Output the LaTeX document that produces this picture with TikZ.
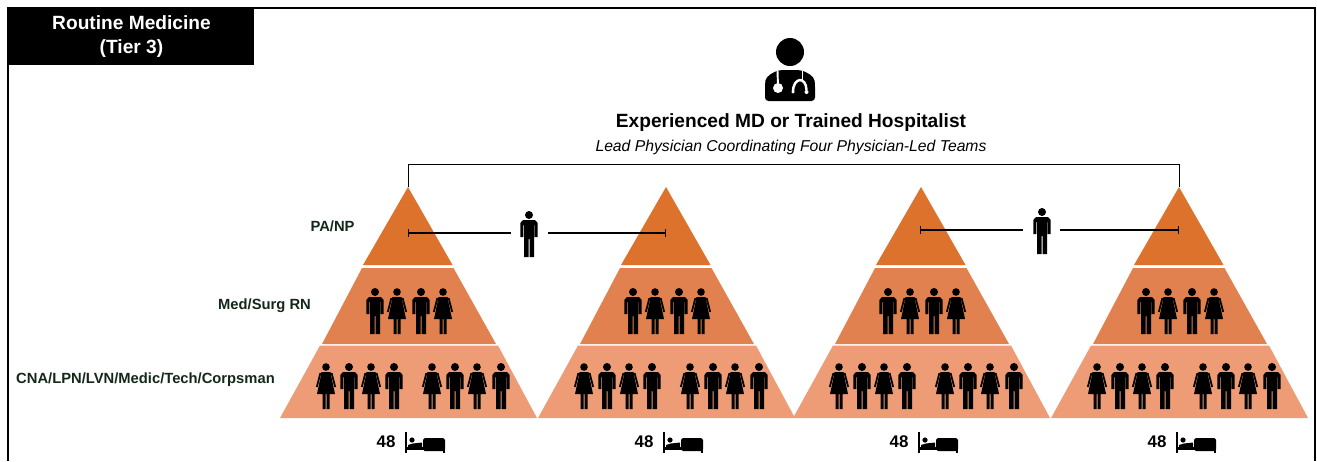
\documentclass[tikz,border=0pt]{standalone}
\usepackage{fontspec}
\setmainfont{Liberation Sans}
\usetikzlibrary{arrows.meta}
\definecolor{tiertop}{HTML}{DC722B}
\definecolor{tiermid}{HTML}{E0814F}
\definecolor{tierlow}{HTML}{EE9C75}
\definecolor{stafftext}{HTML}{14281A}

\begin{document}
\begin{tikzpicture}[
    x=0.02cm, y=-0.02cm,
    % Define styles
    frameline/.style={draw, line width=1.1pt},
    tierbox/.style={fill=black, text=white, align=center, font=\fontsize{10.9pt}{13.4pt}\selectfont\bfseries},
    title/.style={font=\fontsize{10.9pt}{13pt}\selectfont\bfseries},
    subtitle/.style={font=\fontsize{8.95pt}{12pt}\selectfont\itshape},
    staff/.style={text=stafftext, font=\fontsize{8.4pt}{10pt}\selectfont\bfseries},
    beds/.style={font=\fontsize{9.6pt}{11pt}\selectfont\bfseries},
    bracket/.style={line width=0.5pt},
    teamline/.style={line width=0.6pt},
    man/.pic={
        \fill (0,4) circle[radius=4];
        \fill (-8.7,26) -- (-8.7,12) -- (-6,9) -- (6,9) -- (8.7,12) -- (8.7,26) -- (5.7,26) -- (5.7,14)
            -- (5,14) -- (5,46) -- (0.5,46) -- (0.5,28) -- (-0.5,28) -- (-0.5,46) -- (-5,46) -- (-5,14)
            -- (-5.7,14) -- (-5.7,26) -- cycle;
    },
    woman/.pic={
        \fill (0,4) circle[radius=3.8];
        \fill (-4.6,9) -- (4.6,9) -- (5.4,14) -- (9,31) -- (3.5,31) -- (3.5,46) -- (0.5,46) -- (0.5,31)
            -- (-0.5,31) -- (-0.5,46) -- (-3.5,46) -- (-3.5,31) -- (-9,31) -- (-5.4,14) -- cycle;
        \draw[line width=1pt] (-5.6,10) -- (-9.2,24);
        \draw[line width=1pt] (5.6,10) -- (9.2,24);
    },
    bed/.pic={
        \fill (0,0) rectangle (2.4,21);
        \fill (0,15) rectangle (40,18);
        \fill (7,8) circle[radius=2.6];
        \fill (3,13) -- (8,11.5) -- (17,10.5) -- (17,15) -- (3,15) -- cycle;
        \fill[rounded corners=1pt] (18,6) rectangle (40,19);
        \fill (37.6,15) rectangle (40,21);
    }
]

\useasboundingbox (0,0) rectangle (1317,461);

% Frame and tier box
\draw[frameline] (8,461) -- (8,8) -- (1315,8) -- (1315,461);
\node[tierbox, minimum width=4.92cm, minimum height=1.14cm, inner sep=0pt] (tier) at (131.5,36.5) {Routine Medicine\\(Tier 3)};

% Lead physician
\coordinate (doctor) at (790,52);
\fill (doctor) circle[radius=14];
\fill[rounded corners=2pt] (765,101) -- (765,84) .. controls (766,76) and (774,72) .. (780,70)
    -- (800,70) .. controls (806,72) and (814,76) .. (815,84) -- (815,101) -- cycle;
\draw[white, line width=1.1pt] (777.5,71) -- (778,86);
\fill[white] (778,88) circle[radius=5];
\draw[white, line width=1.1pt] (802.5,71) -- (802.5,81);
\draw[white, line width=1.4pt] (793,92) .. controls (793,77) and (806,76) .. (806.5,90);
\fill[white] (806.5,92) circle[radius=2];
\fill[white] (793,92) circle[radius=1.6];
\node[title] (lead) at (791,123) {Experienced MD or Trained Hospitalist};
\node[subtitle] (leadrole) at (791,147) {Lead Physician Coordinating Four Physician-Led Teams};

% Role labels
\node[staff] (panp) at (332.5,226) {PA/NP};
\node[staff] (rn) at (264.5,306) {Med/Surg RN};
\node[staff] (cna) at (145.5,380) {CNA/LPN/LVN/Medic/Tech/Corpsman};

% Pyramids
\foreach \ax/\n in {408/1,666/2,921/3,1179/4} {
    \fill[tiertop] (\ax,187) -- (\ax+44.5,265) -- (\ax-45,265) -- cycle;
    \fill[tiermid] (\ax-46,268) -- (\ax+45.5,268) -- (\ax+88,344) -- (\ax-86,344) -- cycle;
    \fill[tierlow] (\ax-88,345.5) -- (\ax+90,345.5) -- (\ax+129,418) -- (\ax-128,418) -- cycle;
    \coordinate (apex\n) at (\ax,187);

    % Med/Surg RN row
    \foreach \dx/\kind in {-33/man,-11/woman,13/man,35/woman}
        \pic at (\ax+\dx,288) {\kind};

    % CNA row
    \foreach \dx/\kind in {-82/woman,-59/man,-37/woman,-14/man,24/woman,47/man,69/woman,93/man}
        \pic at (\ax+\dx,363) {\kind};

    % Beds
    \node[beds] (beds\n) at (\ax-22,442) {48};
    \pic at (\ax-3,432) {bed};
}

% Bracket from lead physician to the teams
\draw[bracket] (apex1) -- ++(0,-23) -| (apex4);

% PA/NP shared between teams
\coordinate (pa1) at (529,211);
\coordinate (pa2) at (1042,208);
\pic at (pa1) {man};
\pic at (pa2) {man};
\coordinate (pa1w) at (511,233);
\coordinate (pa1e) at (548,233);
\coordinate (pa2w) at (1023,230);
\coordinate (pa2e) at (1060,230);
\draw[teamline, {Bar[width=4pt,length=0.7pt]}-] (408,233) -- (pa1w);
\draw[teamline, -{Bar[width=4pt,length=0.7pt]}] (pa1e) -- (666,233);
\draw[teamline, {Bar[width=4pt,length=0.7pt]}-] (920,230) -- (pa2w);
\draw[teamline, -{Bar[width=4pt,length=0.7pt]}] (pa2e) -- (1179,230);

\end{tikzpicture}
\end{document}
